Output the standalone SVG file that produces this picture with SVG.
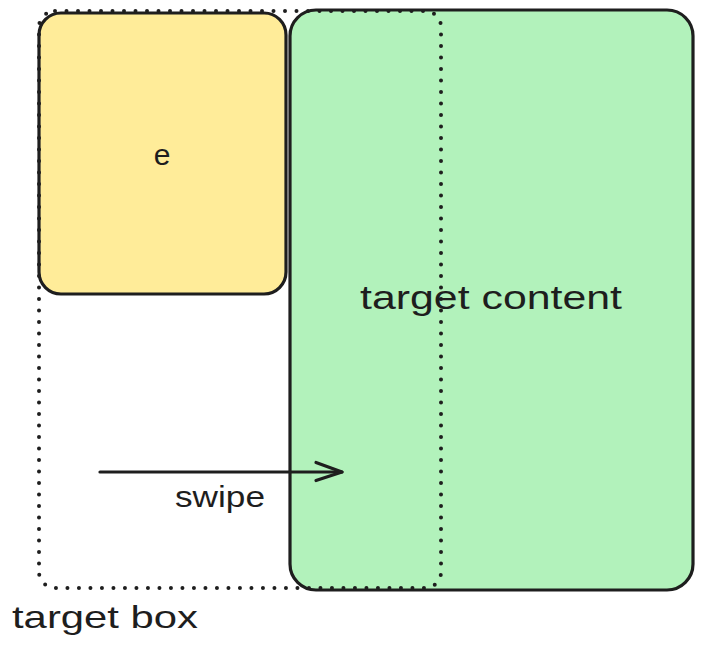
<svg xmlns="http://www.w3.org/2000/svg" width="702" height="650" viewBox="0 0 702 650">
<style>
.solid{stroke:#1e1e1e;stroke-width:3.2;}
.dotted{fill:none;stroke:#1e1e1e;stroke-width:4;stroke-dasharray:0 11.5;stroke-linecap:round;}
.lbl{font-family:"Liberation Sans",Arial,sans-serif;fill:#1e1e1e;}
.conn{fill:none;stroke:#1e1e1e;stroke-width:3.2;stroke-linecap:round;stroke-linejoin:round;}
</style>
<rect width="702" height="650" fill="#ffffff"/>
<g id="node-e">
<rect class="solid" x="39" y="13" width="247" height="281" rx="22" fill="#ffec99"/>
<text class="lbl" x="162" y="165" font-size="30" text-anchor="middle">e</text>
</g>
<g id="node-target-content">
<rect class="solid" x="290" y="10" width="403" height="580" rx="26" fill="#b2f2bb"/>
<text class="lbl" x="360" y="309" font-size="34" textLength="262" lengthAdjust="spacingAndGlyphs">target content</text>
</g>
<g id="node-target-box">
<rect class="dotted" x="39" y="11" width="402" height="577" rx="16"/>
<text class="lbl" x="12" y="628" font-size="32" textLength="186" lengthAdjust="spacingAndGlyphs">target box</text>
</g>
<g id="connectors">
<path class="conn" d="M100 472 L342 472"/>
<path class="conn" d="M316 462.5 L342 472 L316 480.5"/>
<text class="lbl" x="175" y="507" font-size="30" textLength="90" lengthAdjust="spacingAndGlyphs">swipe</text>
</g>
</svg>
